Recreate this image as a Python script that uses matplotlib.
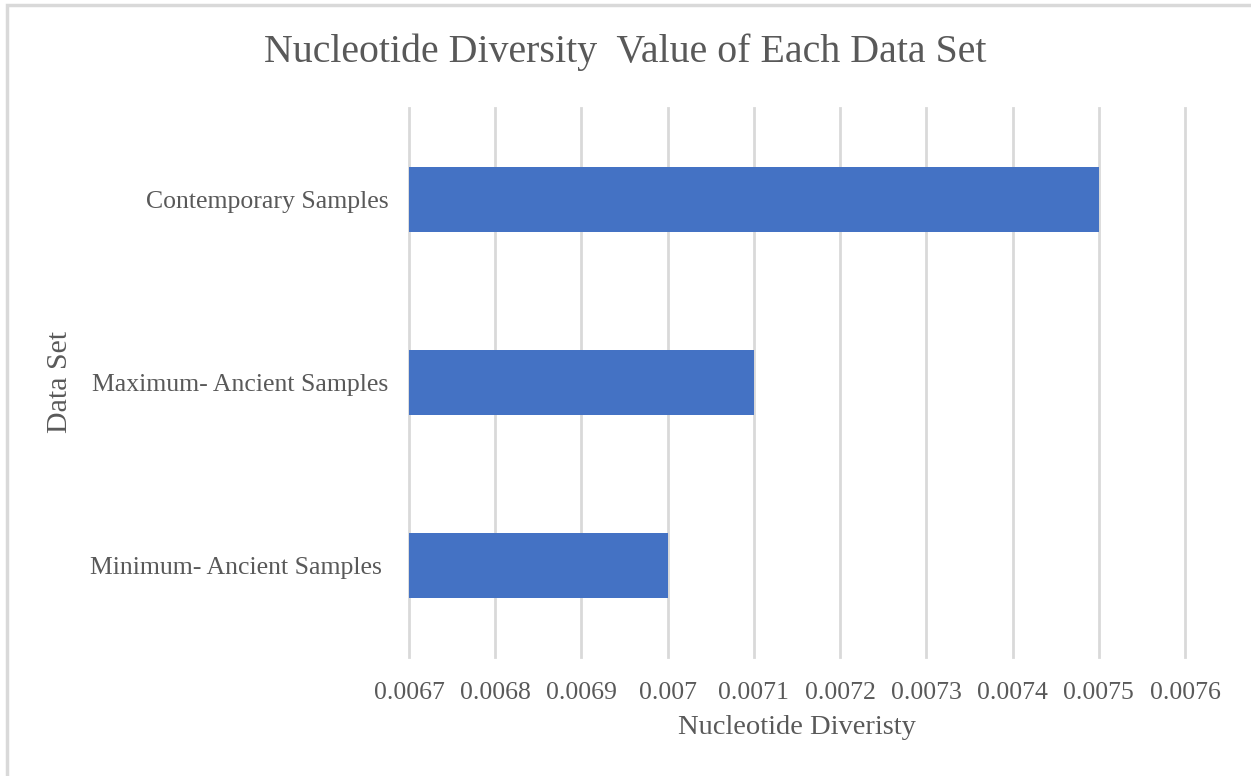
# Nucleotide diversity bar chart (Excel style)

import matplotlib
matplotlib.use('Agg')
import numpy as np
import matplotlib.pyplot as plt
from matplotlib.patches import Rectangle

# %%
# Data (bottom to top)
data_sets = ['Minimum- Ancient Samples ', 'Maximum- Ancient Samples', 'Contemporary Samples']
diversity = [0.0070, 0.0071, 0.0075]
x_ticks = [0.0067, 0.0068, 0.0069, 0.0070, 0.0071, 0.0072, 0.0073, 0.0074, 0.0075, 0.0076]
x_tick_labels = ['0.0067', '0.0068', '0.0069', '0.007', '0.0071', '0.0072',
                 '0.0073', '0.0074', '0.0075', '0.0076']

# %%
plt.rcParams['font.family'] = ['Liberation Serif', 'DejaVu Serif']
text_color = '#595959'
grid_color = '#D9D9D9'
bar_color = '#4472C4'

fig = plt.figure(figsize=(12.51, 7.76), dpi=100)
ax = fig.add_axes([409/1251, 1 - 657/776, 776/1251, 549/776])

# outer chart border (cut off at right and bottom like the screenshot)
fig.patches.append(Rectangle((7/1251, -0.1), 1.2, 1 - 5/776 + 0.1,
                             transform=fig.transFigure, fill=False,
                             edgecolor=grid_color, linewidth=2.5))

y = np.arange(len(data_sets))
base = x_ticks[0]
ax.barh(y, np.array(diversity) - base, left=base, height=0.35,
        color=bar_color, zorder=3)

ax.set_xlim(x_ticks[0], x_ticks[-1])
ax.set_ylim(-0.5, len(data_sets) - 0.5)
ax.set_xticks(x_ticks)
ax.set_xticklabels(x_tick_labels, fontsize=18.5, color=text_color)
ax.set_yticks(y)
ax.set_yticklabels(data_sets, fontsize=18.5, color=text_color)
ax.tick_params(axis='both', length=0)
ax.tick_params(axis='x', pad=18)
ax.tick_params(axis='y', pad=15)

ax.grid(axis='x', color=grid_color, linewidth=2, zorder=0)
for gl in ax.get_xgridlines():
    gl.set_clip_on(False)
for s in ax.spines.values():
    s.set_visible(False)

# axis titles and chart title
fig.text(797/1251, 1 - 728/776, 'Nucleotide Diveristy', ha='center', va='center',
         fontsize=20.5, color=text_color)
fig.text(60/1251, 1 - 382/776, 'Data Set', ha='center', va='center', rotation=90,
         fontsize=21.5, color=text_color)
fig.text(0.5, 1 - 52/776, 'Nucleotide Diversity  Value of Each Data Set',
         ha='center', va='center', fontsize=28.7, color=text_color)

fig.savefig('out.png', dpi=100)
